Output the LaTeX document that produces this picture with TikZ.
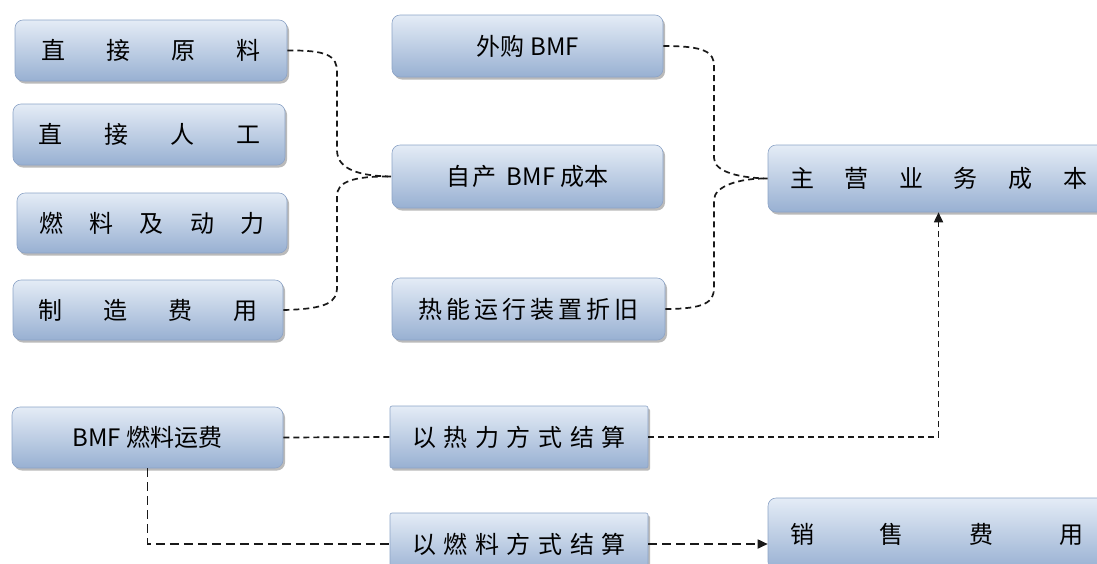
\documentclass[tikz,border=0pt]{standalone}
\usepackage{fontspec}
\newfontfamily\cjk{Noto Sans CJK SC}
\usetikzlibrary{arrows.meta,shadows}
\definecolor{boxtop}{HTML}{E4ECF6}
\definecolor{boxmid}{HTML}{C9D7EA}
\definecolor{boxbot}{HTML}{98B0D2}
\definecolor{boxline}{HTML}{8CA3C6}
\tikzset{
  box/.style={rectangle, rounded corners=8pt, draw=boxline, line width=0.6pt,
    top color=boxtop, middle color=boxmid, bottom color=boxbot,
    drop shadow={shadow xshift=2pt, shadow yshift=-2.5pt, fill=black!45, opacity=0.6},
    inner sep=0pt, font=\cjk\fontsize{24}{27}\selectfont, text=black},
  sqbox/.style={box, rounded corners=2pt},
  link/.style={draw=black!90, line width=1.7pt, dash pattern=on 6pt off 4pt},
  longlink/.style={link, dash pattern=on 9pt off 5pt},
  tip/.style={-{Triangle[length=10pt,width=9pt]}}
}
\begin{document}
\begin{tikzpicture}[x=1pt,y=-1pt]
\path[use as bounding box] (0,0) rectangle (1097,563);
\clip (0,0) rectangle (1097,563);
% left column
\node[box, minimum width=272pt, minimum height=61pt] (a1) at (151,50.5) {\makebox[220pt]{直\hfill 接\hfill 原\hfill 料}};
\node[box, minimum width=272pt, minimum height=61pt] (a2) at (149,134.5) {\makebox[222pt]{直\hfill 接\hfill 人\hfill 工}};
\node[box, minimum width=270pt, minimum height=60pt] (a3) at (152,223) {\makebox[225pt]{燃\hfill 料\hfill 及\hfill 动\hfill 力}};
\node[box, minimum width=270pt, minimum height=60pt] (a4) at (148,310) {\makebox[220pt]{制\hfill 造\hfill 费\hfill 用}};
% middle column
\node[box, minimum width=271pt, minimum height=62pt] (b1) at (527.5,46) {外购\hspace{6pt}BMF};
\node[box, minimum width=271pt, minimum height=63pt] (b2) at (527.5,176.5) {自\hspace{2pt}产\hspace{10pt}BMF\hspace{5pt}成本};
\node[box, minimum width=273pt, minimum height=62pt] (b3) at (528.5,309) {\makebox[220pt]{热\hfill 能\hfill 运\hfill 行\hfill 装\hfill 置\hfill 折\hfill 旧}};
% main cost
\node[box, minimum width=341pt, minimum height=67pt] (m) at (938.5,178.5) {\makebox[297pt]{主\hfill 营\hfill 业\hfill 务\hfill 成\hfill 本}};
% bottom part
\node[box, minimum width=271pt, minimum height=61pt] (f) at (147.5,437.5) {BMF\hspace{6pt}燃料运费};
\node[sqbox, minimum width=258pt, minimum height=62pt] (h) at (519,437) {\makebox[214pt]{以\hfill 热\hfill 力\hfill 方\hfill 式\hfill 结\hfill 算}};
\node[sqbox, minimum width=258pt, minimum height=62pt] (r) at (519,544) {\makebox[214pt]{以\hfill 燃\hfill 料\hfill 方\hfill 式\hfill 结\hfill 算}};
\node[box, minimum width=337pt, minimum height=72pt] (s) at (936.5,534) {\makebox[293pt]{销\hfill 售\hfill 费\hfill 用}};
% connectors: left bracket
\draw[link] (a1.east) .. controls (328,50) and (337,56) .. (337,72) -- (337,150) .. controls (337,166) and (352,176) .. (b2.west);
\draw[link] (a4.east) .. controls (328,309) and (337,302) .. (337,287) -- (337,196) .. controls (337,182) and (352,176) .. (b2.west);
% connectors: right bracket
\draw[link] (b1.east) .. controls (705,46) and (714,52) .. (714,66) -- (714,158) .. controls (714,172) and (740,178) .. (m.west);
\draw[link] (b3.east) .. controls (705,309) and (714,302) .. (714,288) -- (714,200) .. controls (714,186) and (740,178) .. (m.west);
% bottom connectors
\draw[link] (f.east) -- (h.west);
\draw[link, tip] (h.east) -| (m.south);
\draw[longlink] (f.south) |- (r.west);
\draw[longlink, tip] (r.east) -- (s.west |- r.east);
\end{tikzpicture}
\end{document}
